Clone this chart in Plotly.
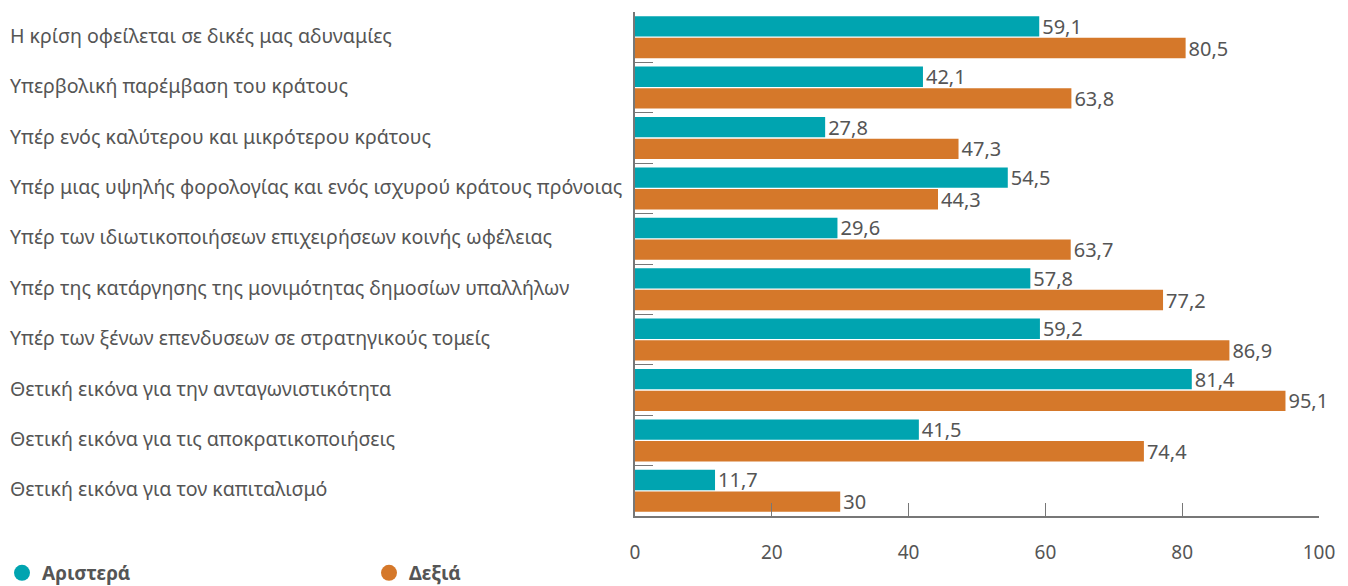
import plotly.graph_objects as go

categories = [
    "Η κρίση οφείλεται σε δικές μας αδυναμίες",
    "Υπερβολική παρέμβαση του κράτους",
    "Υπέρ ενός καλύτερου και μικρότερου κράτους",
    "Υπέρ μιας υψηλής φορολογίας και ενός ισχυρού κράτους πρόνοιας",
    "Υπέρ των ιδιωτικοποιήσεων επιχειρήσεων κοινής ωφέλειας",
    "Υπέρ της κατάργησης της μονιμότητας δημοσίων υπαλλήλων",
    "Υπέρ των ξένων επενδυσεων σε στρατηγικούς τομείς",
    "Θετική εικόνα για την ανταγωνιστικότητα",
    "Θετική εικόνα για τις αποκρατικοποιήσεις",
    "Θετική εικόνα για τον καπιταλισμό",
]
left_values = [59.1, 42.1, 27.8, 54.5, 29.6, 57.8, 59.2, 81.4, 41.5, 11.7]
right_values = [80.5, 63.8, 47.3, 44.3, 63.7, 77.2, 86.9, 95.1, 74.4, 30]
series_names = ["Αριστερά", "Δεξιά"]
x_ticks = [0, 20, 40, 60, 80, 100]

TEAL = "#00a4b0"
ORANGE = "#d5782a"
GREY = "#555555"
FONT = "Noto Sans"

# page body has an 8px margin; figure sized to fill the visible window
W, H = 1340, 578
ML, MR, MT, MB = 627, 29, 4, 70
PW = W - ML - MR
PH = H - MT - MB


def fmt(v):
    s = ("%g" % v)
    return s.replace(".", ",")


fig = go.Figure()
series = [(series_names[0], left_values, TEAL, "legend"),
          (series_names[1], right_values, ORANGE, "legend2")]
for name, vals, col, leg in series:
    fig.add_trace(go.Bar(
        y=categories, x=vals, orientation="h", name=name,
        marker=dict(color=col, line=dict(width=0)),
        text=[fmt(v) for v in vals], textposition="outside",
        constraintext="none",
        textfont=dict(size=20, color=GREY, family=FONT),
        cliponaxis=False, showlegend=False,
    ))
    fig.add_trace(go.Scatter(
        x=[None], y=[None], mode="markers", name=name, legend=leg,
        marker=dict(color=col, size=20, symbol="circle"),
    ))

for c in categories:
    fig.add_annotation(
        x=(0 - ML) / PW, xref="paper", y=c, yref="y", text=c, showarrow=False,
        xanchor="left", yanchor="middle", yshift=2,
        font=dict(size=19.6, color=GREY, family=FONT),
    )

legend_common = dict(
    orientation="h", xref="paper", yref="paper", xanchor="left", yanchor="middle",
    y=-(565 - (MT + PH)) / PH,
    font=dict(size=19, color=GREY, family=FONT, weight="bold"),
    itemsizing="trace", bgcolor="rgba(0,0,0,0)",
)

fig.update_layout(
    width=W, height=H,
    margin=dict(l=ML, r=MR, t=MT, b=MB, autoexpand=False),
    plot_bgcolor="white", paper_bgcolor="white",
    barmode="group", bargap=0.14, bargroupgap=0.06,
    font=dict(family=FONT, color=GREY, size=19),
    showlegend=True,
    legend=dict(x=(-6 - ML) / PW, **legend_common),
    legend2=dict(x=(361 - ML) / PW, **legend_common),
    xaxis=dict(
        range=[0, 100], tickvals=x_ticks, ticktext=[str(t) for t in x_ticks],
        showgrid=False, zeroline=False, showline=True, linecolor="#777777",
        linewidth=1.5, ticks="inside", ticklen=13, tickcolor="#777777",
        ticklabelstandoff=18, tickfont=dict(size=19, color=GREY, family=FONT),
    ),
    yaxis=dict(
        type="category", autorange="reversed", showticklabels=False,
        tickson="boundaries", ticks="inside", ticklen=18, tickcolor="#777777",
        showline=True, linecolor="#777777", linewidth=1.5, showgrid=False,
    ),
)

fig.write_html("out.html")
